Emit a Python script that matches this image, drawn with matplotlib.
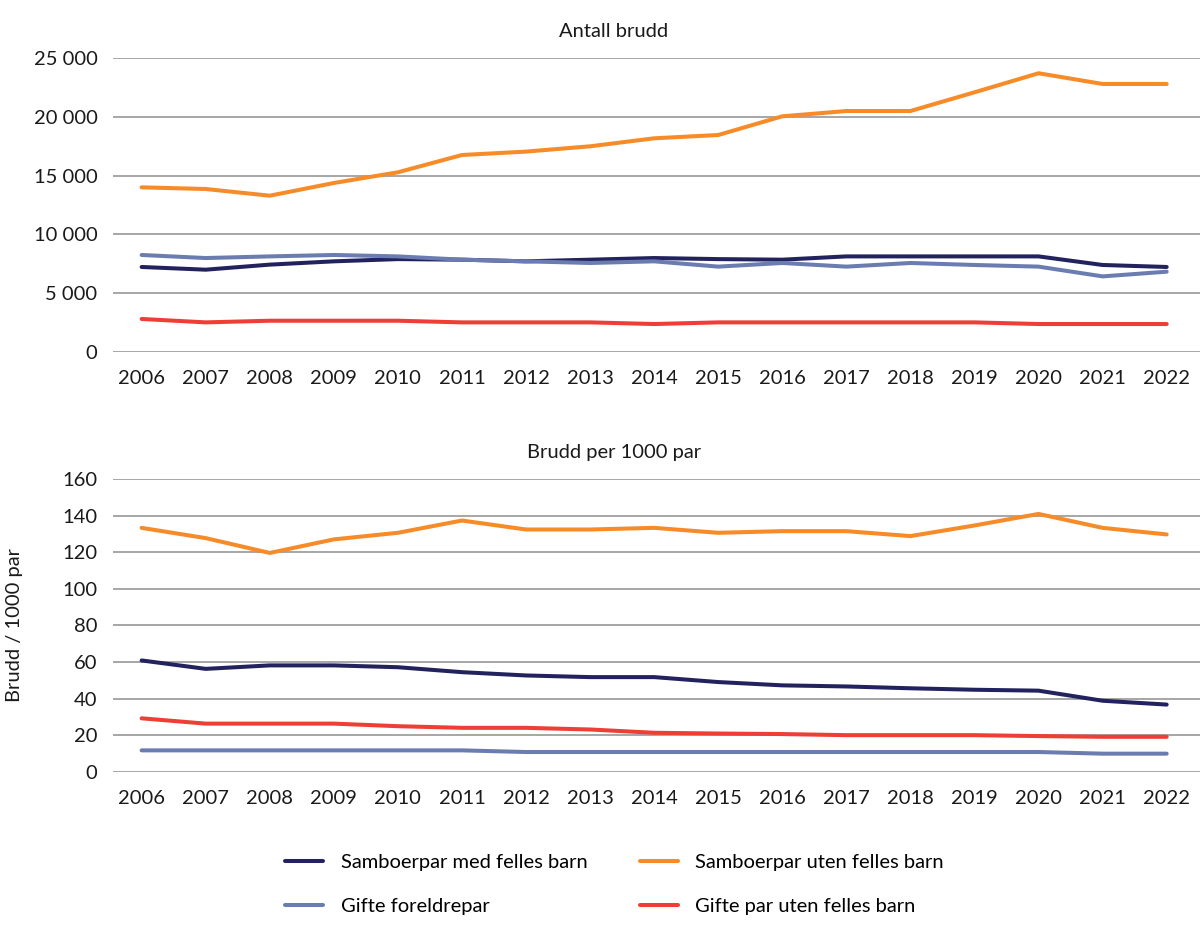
import matplotlib.pyplot as plt
from matplotlib.ticker import FuncFormatter
import numpy as np

plt.rcParams['font.family'] = ['Lato', 'DejaVu Sans']

years = list(range(2006, 2023))

# Antall brudd
antall_samboer_med = [7230, 7000, 7430, 7710, 7900, 7850, 7710, 7850, 7990,
                      7900, 7850, 8130, 8130, 8130, 8130, 7400, 7230]
antall_samboer_uten = [14000, 13860, 13290, 14370, 15280, 16750, 17040, 17490, 18170,
                       18450, 20040, 20490, 20490, 22080, 23700, 22790, 22790]
antall_gifte_foreldre = [8250, 7990, 8130, 8250, 8130, 7850, 7710, 7570, 7710,
                         7260, 7570, 7260, 7570, 7400, 7260, 6430, 6830]
antall_gifte_uten = [2810, 2520, 2660, 2660, 2660, 2520, 2520, 2520, 2380,
                     2520, 2520, 2520, 2520, 2520, 2380, 2380, 2380]

# Brudd per 1000 par
rate_samboer_med = [60.9, 56.3, 58.2, 58.2, 57.2, 54.5, 52.7, 51.8, 51.8,
                    49.1, 47.3, 46.7, 45.7, 44.9, 44.4, 38.9, 36.8]
rate_samboer_uten = [133.3, 127.7, 119.6, 127.0, 130.6, 137.3, 132.4, 132.4, 133.3,
                     130.6, 131.5, 131.5, 128.8, 134.6, 140.9, 133.3, 129.7]
rate_gifte_foreldre = [11.8, 11.8, 11.8, 11.8, 11.8, 11.8, 10.9, 10.9, 10.9,
                       10.9, 10.9, 10.9, 10.9, 10.9, 10.9, 10.0, 10.0]
rate_gifte_uten = [29.3, 26.4, 26.4, 26.4, 25.0, 24.1, 24.1, 23.2, 21.4,
                   21.0, 20.7, 20.1, 20.1, 20.1, 19.6, 19.2, 19.2]

labels = ['Samboerpar med felles barn', 'Samboerpar uten felles barn',
          'Gifte foreldrepar', 'Gifte par uten felles barn']
colors = ['#22235e', '#f68b28', '#6b7cb0', '#ee3e35']

fs = 14.5
fig = plt.figure(figsize=(12, 9.32), dpi=100)
ax1 = fig.add_axes([0.094, 0.6223, 0.906, 0.3155])
ax2 = fig.add_axes([0.094, 0.1717, 0.906, 0.3144])

top_series = [antall_samboer_med, antall_samboer_uten, antall_gifte_foreldre, antall_gifte_uten]
bottom_series = [rate_samboer_med, rate_samboer_uten, rate_gifte_foreldre, rate_gifte_uten]

lines = []
for vals, lab, c in zip(top_series, labels, colors):
    ln, = ax1.plot(years, vals, color=c, lw=2.9, label=lab, solid_capstyle='round')
    lines.append(ln)
for vals, lab, c in zip(bottom_series, labels, colors):
    ax2.plot(years, vals, color=c, lw=2.9, solid_capstyle='round')

ax1.set_ylim(0, 25000)
ax1.set_yticks(np.arange(0, 25001, 5000))
ax1.yaxis.set_major_formatter(FuncFormatter(lambda v, p: f'{int(v):,}'.replace(',', ' ')))
ax2.set_ylim(0, 160)
ax2.set_yticks(np.arange(0, 161, 20))

for ax in (ax1, ax2):
    ax.set_xlim(2005.55, 2022.52)
    ax.set_xticks(years)
    ax.set_xticklabels([str(y) for y in years])
    ax.grid(axis='y', color='#a6a6a6', lw=1.4)
    ax.set_axisbelow(True)
    for s in ax.spines.values():
        s.set_visible(False)
    ax.tick_params(axis='both', length=0, labelsize=fs, colors='#1a1a1a')
    ax.tick_params(axis='y', pad=11)
    ax.tick_params(axis='x', pad=13)

ax1.set_title('Antall brudd', fontsize=fs, pad=15, color='#1a1a1a', x=0.461)
ax2.set_title('Brudd per 1000 par', fontsize=fs, pad=15, color='#1a1a1a', x=0.461)
ax2.set_ylabel('Brudd / 1000 par', fontsize=fs, color='#1a1a1a')
ax2.yaxis.set_label_coords(-0.083, 0.5)

order = [0, 2, 1, 3]
fig.legend([lines[i] for i in order], [labels[i] for i in order],
           loc='center', bbox_to_anchor=(0.512, 0.051), ncol=2, frameon=False,
           fontsize=fs, handlelength=1.9, handletextpad=0.85,
           columnspacing=2.6, labelspacing=1.3)

fig.savefig('out.png', dpi=100)
